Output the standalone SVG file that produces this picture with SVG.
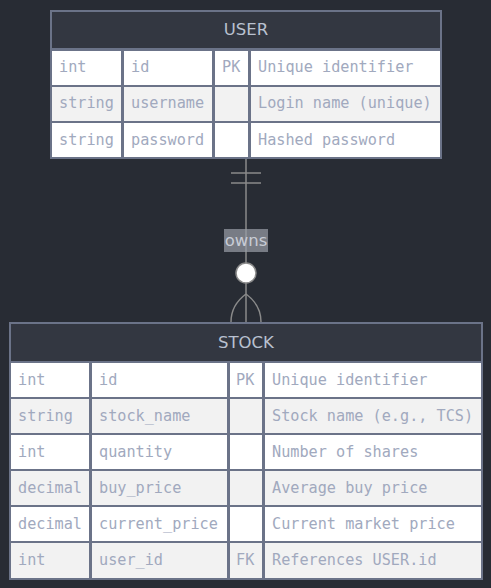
<svg xmlns="http://www.w3.org/2000/svg" width="491" height="588" viewBox="0 0 491 588">
<style>
.bg{fill:#282c34}
.hdr{fill:#333741;stroke:#6b7388;stroke-width:2}
.ro{fill:#ffffff;stroke:#6b7388;stroke-width:2}
.re{fill:#f2f2f2;stroke:#6b7388;stroke-width:2}
.ht{font-family:"DejaVu Sans",sans-serif;font-size:16.5px;fill:#b9c1d0;text-anchor:middle;dominant-baseline:central}
.ct{font-family:"DejaVu Sans Mono",monospace;font-size:15.2px;fill:#a1a9be;dominant-baseline:central}
.ln{stroke:#8a8a8a;stroke-width:1.5;fill:none}
</style>
<rect class="bg" x="0" y="0" width="491" height="588"/>
<g id="connectors">
<line class="ln" x1="246" y1="158" x2="246" y2="322"/>
<line class="ln" x1="231" y1="173" x2="261" y2="173"/>
<line class="ln" x1="231" y1="183" x2="261" y2="183"/>
<path class="ln" d="M246 294 Q231 305 231 322"/>
<path class="ln" d="M246 294 Q261 305 261 322"/>
<circle cx="246" cy="273" r="10" fill="#ffffff" stroke="#8a8a8a" stroke-width="1.5"/>
<rect x="224" y="229" width="44" height="23" fill="#9a9ea8" fill-opacity="0.7"/>
<text x="246" y="240.5" font-family="DejaVu Sans,sans-serif" font-size="16.5" fill="#c8ccd6" text-anchor="middle" dominant-baseline="central">owns</text>
</g>
<g id="USER">
<rect class="hdr" x="51" y="11" width="390" height="38"/>
<text class="ht" x="246" y="29.5">USER</text>
<rect class="ro" x="51" y="50" width="71" height="36"/>
<rect class="ro" x="123" y="50" width="90" height="36"/>
<rect class="ro" x="214" y="50" width="35" height="36"/>
<rect class="ro" x="250" y="50" width="191" height="36"/>
<rect class="re" x="51" y="86" width="71" height="36"/>
<rect class="re" x="123" y="86" width="90" height="36"/>
<rect class="re" x="214" y="86" width="35" height="36"/>
<rect class="re" x="250" y="86" width="191" height="36"/>
<rect class="ro" x="51" y="122" width="71" height="36"/>
<rect class="ro" x="123" y="122" width="90" height="36"/>
<rect class="ro" x="214" y="122" width="35" height="36"/>
<rect class="ro" x="250" y="122" width="191" height="36"/>
<text class="ct" x="59" y="67">int</text>
<text class="ct" x="131" y="67">id</text>
<text class="ct" x="222" y="67">PK</text>
<text class="ct" x="258" y="67">Unique identifier</text>
<text class="ct" x="59" y="103">string</text>
<text class="ct" x="131" y="103">username</text>
<text class="ct" x="258" y="103">Login name (unique)</text>
<text class="ct" x="59" y="139.5">string</text>
<text class="ct" x="131" y="139.5">password</text>
<text class="ct" x="258" y="139.5">Hashed password</text>
</g>
<g id="STOCK">
<rect class="hdr" x="10" y="323" width="472" height="39"/>
<text class="ht" x="246" y="342">STOCK</text>
<rect class="ro" x="10" y="362" width="80" height="36"/>
<rect class="ro" x="91" y="362" width="137" height="36"/>
<rect class="ro" x="229" y="362" width="34" height="36"/>
<rect class="ro" x="264" y="362" width="218" height="36"/>
<rect class="re" x="10" y="398" width="80" height="36"/>
<rect class="re" x="91" y="398" width="137" height="36"/>
<rect class="re" x="229" y="398" width="34" height="36"/>
<rect class="re" x="264" y="398" width="218" height="36"/>
<rect class="ro" x="10" y="434" width="80" height="36"/>
<rect class="ro" x="91" y="434" width="137" height="36"/>
<rect class="ro" x="229" y="434" width="34" height="36"/>
<rect class="ro" x="264" y="434" width="218" height="36"/>
<rect class="re" x="10" y="470" width="80" height="36"/>
<rect class="re" x="91" y="470" width="137" height="36"/>
<rect class="re" x="229" y="470" width="34" height="36"/>
<rect class="re" x="264" y="470" width="218" height="36"/>
<rect class="ro" x="10" y="506" width="80" height="36"/>
<rect class="ro" x="91" y="506" width="137" height="36"/>
<rect class="ro" x="229" y="506" width="34" height="36"/>
<rect class="ro" x="264" y="506" width="218" height="36"/>
<rect class="re" x="10" y="542" width="80" height="37"/>
<rect class="re" x="91" y="542" width="137" height="37"/>
<rect class="re" x="229" y="542" width="34" height="37"/>
<rect class="re" x="264" y="542" width="218" height="37"/>
<text class="ct" x="18" y="380">int</text>
<text class="ct" x="99" y="380">id</text>
<text class="ct" x="236" y="380">PK</text>
<text class="ct" x="272" y="380">Unique identifier</text>
<text class="ct" x="18" y="416">string</text>
<text class="ct" x="99" y="416">stock_name</text>
<text class="ct" x="272" y="416">Stock name (e.g., TCS)</text>
<text class="ct" x="18" y="452">int</text>
<text class="ct" x="99" y="452">quantity</text>
<text class="ct" x="272" y="452">Number of shares</text>
<text class="ct" x="18" y="488">decimal</text>
<text class="ct" x="99" y="488">buy_price</text>
<text class="ct" x="272" y="488">Average buy price</text>
<text class="ct" x="18" y="524">decimal</text>
<text class="ct" x="99" y="524">current_price</text>
<text class="ct" x="272" y="524">Current market price</text>
<text class="ct" x="18" y="560">int</text>
<text class="ct" x="99" y="560">user_id</text>
<text class="ct" x="236" y="560">FK</text>
<text class="ct" x="272" y="560">References USER.id</text>
</g>
</svg>
